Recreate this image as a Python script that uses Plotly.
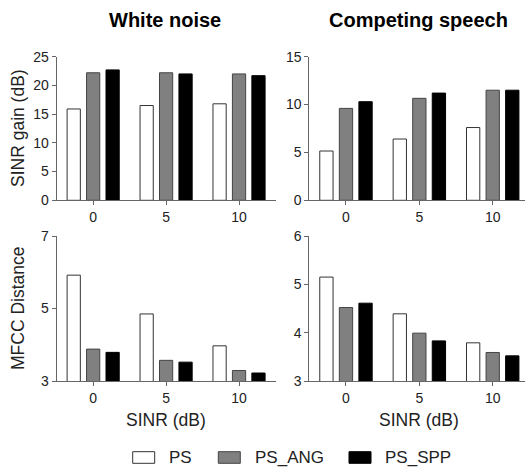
import plotly.graph_objects as go

W, H = 525, 469

categories = ["0", "5", "10"]
series_names = ["PS", "PS_ANG", "PS_SPP"]

wn_sinr_ps = [15.9, 16.5, 16.8]
wn_sinr_ang = [22.2, 22.2, 22.0]
wn_sinr_spp = [22.7, 22.0, 21.7]

cs_sinr_ps = [5.15, 6.4, 7.6]
cs_sinr_ang = [9.6, 10.65, 11.5]
cs_sinr_spp = [10.3, 11.2, 11.5]

wn_mfcc_ps = [5.92, 4.85, 3.97]
wn_mfcc_ang = [3.88, 3.57, 3.29]
wn_mfcc_spp = [3.79, 3.52, 3.22]

cs_mfcc_ps = [5.15, 4.39, 3.79]
cs_mfcc_ang = [4.52, 3.99, 3.59]
cs_mfcc_spp = [4.61, 3.83, 3.52]

fills = ["#ffffff", "#808080", "#000000"]
outlines = ["#333333", "#444444", "#000000"]

FONT = "Liberation Sans, Arial, sans-serif"
AXC = "#666666"
TXT = "#222222"

def px(x):
    return x / W

def py(y):
    return 1 - y / H

fig = go.Figure()

panels = [
    ("x", "y", [wn_sinr_ps, wn_sinr_ang, wn_sinr_spp]),
    ("x2", "y2", [cs_sinr_ps, cs_sinr_ang, cs_sinr_spp]),
    ("x3", "y3", [wn_mfcc_ps, wn_mfcc_ang, wn_mfcc_spp]),
    ("x4", "y4", [cs_mfcc_ps, cs_mfcc_ang, cs_mfcc_spp]),
]

for xa, ya, data in panels:
    for i, vals in enumerate(data):
        fig.add_trace(go.Bar(
            x=categories, y=vals, name=series_names[i], xaxis=xa, yaxis=ya,
            marker=dict(color=fills[i], line=dict(color=outlines[i], width=1)),
            showlegend=False, hoverinfo="x+y+name",
        ))

left_dom = [px(56.7), px(275.5)]
right_dom = [px(309.3), 1.0]
top_dom = [py(200.3), py(56.7)]
bot_dom = [py(381), py(236)]

TICKF = dict(family=FONT, size=14, color=TXT)

def xaxis(dom, rng, anchor):
    return dict(domain=dom, anchor=anchor, type="category", range=rng,
                showline=True, linecolor=AXC, linewidth=1, ticks="outside",
                ticklen=4, tickcolor=AXC, showgrid=False, zeroline=False,
                tickfont=TICKF, fixedrange=True, automargin=False)

def yaxis(dom, rng, dtick, anchor):
    return dict(domain=dom, anchor=anchor, range=rng, dtick=dtick, tick0=rng[0],
                showline=True, linecolor=AXC, linewidth=1, ticks="outside",
                ticklen=4, tickcolor=AXC, showgrid=False, zeroline=False,
                tickfont=TICKF, fixedrange=True, automargin=False)

fig.update_layout(
    width=W, height=H,
    margin=dict(l=0, r=0, t=0, b=0, pad=0),
    paper_bgcolor="white", plot_bgcolor="white",
    barmode="group", bargap=0.2, bargroupgap=0.32,
    xaxis=xaxis(left_dom, [-0.5, 2.5], "y"),
    yaxis=yaxis(top_dom, [0, 25], 5, "x"),
    xaxis2=xaxis(right_dom, [-0.5, 2.44], "y2"),
    yaxis2=yaxis(top_dom, [0, 15], 5, "x2"),
    xaxis3=xaxis(left_dom, [-0.5, 2.5], "y3"),
    yaxis3=yaxis(bot_dom, [3, 7], 2, "x3"),
    xaxis4=xaxis(right_dom, [-0.5, 2.44], "y4"),
    yaxis4=yaxis(bot_dom, [3, 6], 1, "x4"),
    showlegend=False,
)

ann = []
def text(x, y, s, size, bold=False, angle=0):
    ann.append(dict(x=px(x), y=py(y), xref="paper", yref="paper", text=s,
                    showarrow=False, textangle=angle, xanchor="center", yanchor="middle",
                    font=dict(family=FONT, size=size, color="#000000" if bold else TXT)))

text(165, 20, "<b>White noise</b>", 20, bold=True)
text(418, 20, "<b>Competing speech</b>", 20, bold=True)
text(18, 128, "SINR gain (dB)", 17.5, angle=-90)
text(18, 308, "MFCC Distance", 17.5, angle=-90)
text(166, 420, "SINR (dB)", 17.5)
text(419, 420, "SINR (dB)", 17.5)

# legend drawn manually
shapes = []
legend_items = [(132.7, 166.7), (218.3, 253.0), (349.0, 383.0)]
for i, (bx, tx) in enumerate(legend_items):
    shapes.append(dict(type="rect", xref="paper", yref="paper",
                       x0=px(bx), x1=px(bx + 22), y0=py(463.3), y1=py(451.7),
                       fillcolor=fills[i], line=dict(color=outlines[i], width=1)))
    ann.append(dict(x=px(tx), y=py(457.5), xref="paper", yref="paper",
                    text=series_names[i], showarrow=False, xanchor="left", yanchor="middle",
                    font=dict(family=FONT, size=17, color=TXT)))

fig.update_layout(annotations=ann, shapes=shapes)

fig.write_html("out.html", config={"displayModeBar": False},
               post_script="document.body.style.margin='0';document.body.style.overflow='hidden';")
